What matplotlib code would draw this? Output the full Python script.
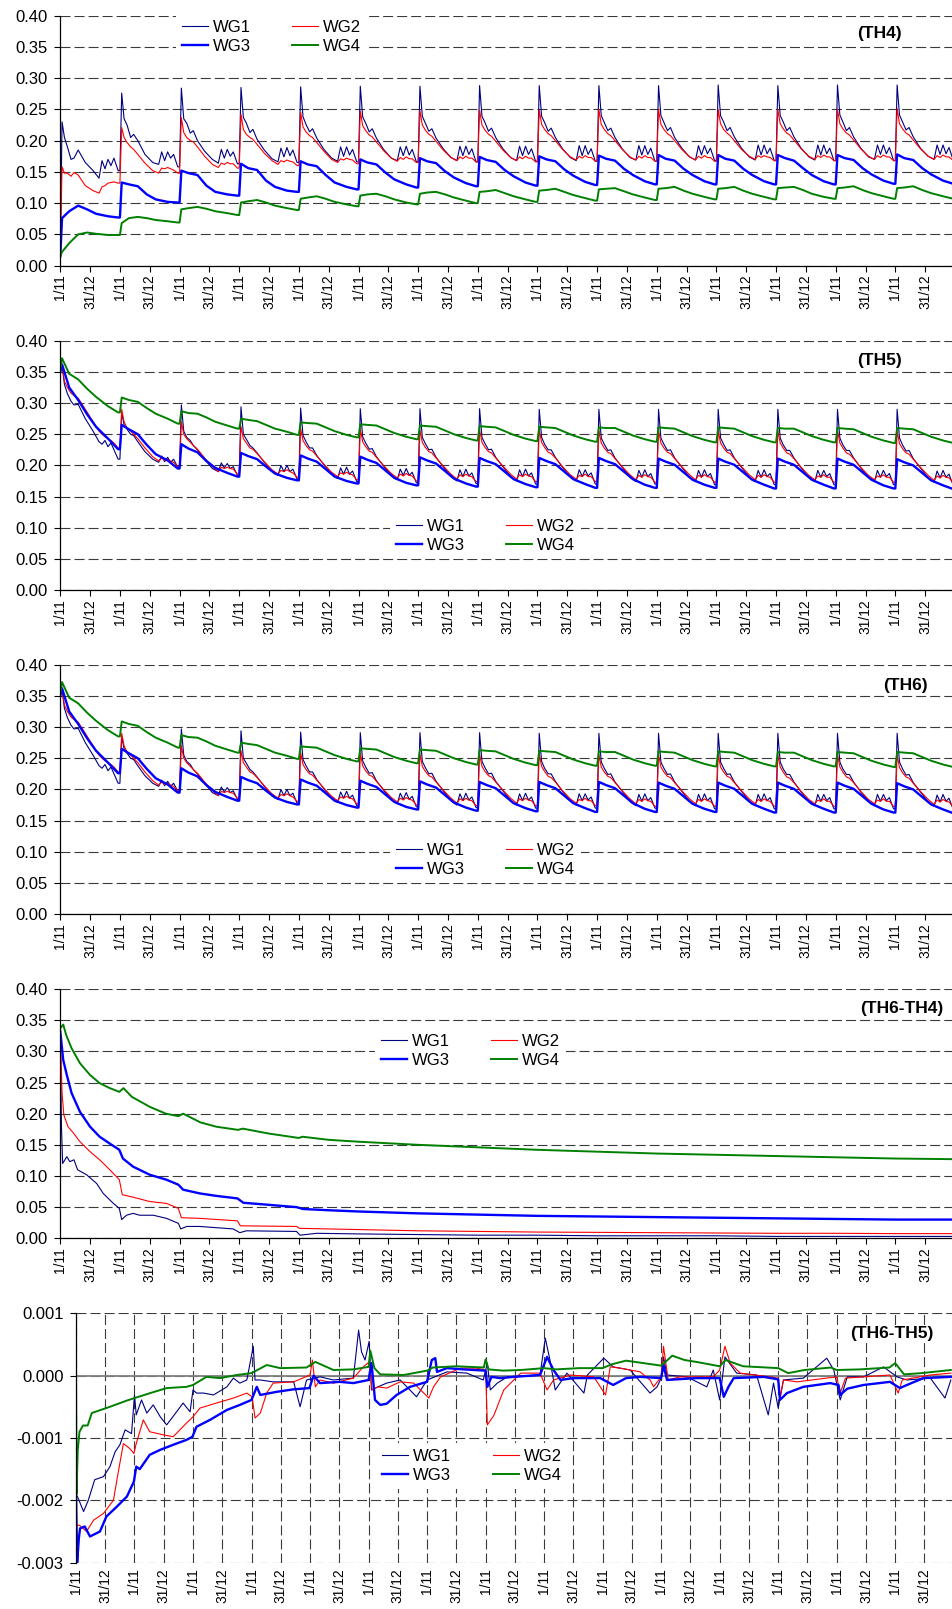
import numpy as np
import matplotlib.pyplot as plt
from matplotlib.ticker import FormatStrFormatter

plt.rcParams['font.family'] = ['Liberation Sans', 'DejaVu Sans']
plt.rcParams['lines.scale_dashes'] = False

names = ['WG1', 'WG2', 'WG3', 'WG4']
colors = ['#000080', '#ff0000', '#0000ff', '#008000']
widths = [0.8, 0.8, 1.7, 1.4]

tick_labels = ['1/11', '31/12'] * 15

frac_a = [0.0, 0.03, 0.07, 0.12, 0.18, 0.23, 0.3, 0.42, 0.55, 0.65, 0.7, 0.75, 0.8, 0.85, 0.9, 0.97]
frac_b = [0.0, 0.03, 0.15, 0.3, 0.45, 0.6, 0.8, 0.97]

# ---- TH4 : one row per season ----
th4_wg1 = [
    [0.020, 0.230, 0.205, 0.190, 0.170, 0.172, 0.185, 0.165, 0.152, 0.140, 0.168, 0.155, 0.170, 0.160, 0.172, 0.152],
    [0.152, 0.276, 0.235, 0.225, 0.205, 0.210, 0.200, 0.178, 0.165, 0.162, 0.182, 0.168, 0.182, 0.172, 0.178, 0.158],
    [0.158, 0.284, 0.235, 0.228, 0.212, 0.216, 0.200, 0.183, 0.170, 0.164, 0.186, 0.172, 0.186, 0.175, 0.182, 0.163],
    [0.163, 0.285, 0.237, 0.228, 0.213, 0.218, 0.202, 0.185, 0.171, 0.166, 0.188, 0.174, 0.189, 0.176, 0.185, 0.165],
    [0.165, 0.286, 0.238, 0.226, 0.214, 0.219, 0.204, 0.186, 0.172, 0.167, 0.190, 0.175, 0.190, 0.177, 0.186, 0.166],
    [0.166, 0.287, 0.238, 0.228, 0.214, 0.219, 0.204, 0.186, 0.172, 0.168, 0.190, 0.176, 0.191, 0.177, 0.186, 0.166],
    [0.166, 0.287, 0.239, 0.228, 0.215, 0.219, 0.204, 0.187, 0.173, 0.168, 0.191, 0.176, 0.191, 0.178, 0.187, 0.166],
    [0.166, 0.288, 0.239, 0.229, 0.215, 0.220, 0.205, 0.187, 0.173, 0.168, 0.191, 0.176, 0.191, 0.178, 0.187, 0.167],
    [0.167, 0.288, 0.239, 0.229, 0.215, 0.220, 0.205, 0.187, 0.173, 0.168, 0.192, 0.176, 0.192, 0.178, 0.187, 0.167],
    [0.167, 0.288, 0.240, 0.229, 0.216, 0.220, 0.205, 0.187, 0.173, 0.169, 0.192, 0.177, 0.192, 0.178, 0.188, 0.167],
    [0.167, 0.288, 0.240, 0.229, 0.216, 0.221, 0.205, 0.188, 0.174, 0.169, 0.192, 0.177, 0.192, 0.179, 0.188, 0.168],
    [0.168, 0.289, 0.240, 0.230, 0.216, 0.221, 0.206, 0.188, 0.174, 0.169, 0.193, 0.177, 0.193, 0.179, 0.188, 0.168],
    [0.168, 0.288, 0.240, 0.230, 0.216, 0.221, 0.206, 0.188, 0.174, 0.169, 0.193, 0.177, 0.193, 0.179, 0.188, 0.168],
    [0.168, 0.289, 0.241, 0.230, 0.216, 0.221, 0.206, 0.188, 0.174, 0.170, 0.193, 0.178, 0.193, 0.179, 0.189, 0.168],
    [0.168, 0.289, 0.241, 0.230, 0.217, 0.221, 0.206, 0.188, 0.175, 0.170, 0.193, 0.178, 0.193, 0.179, 0.189, 0.169],
]
th4_wg2 = [
    [0.020, 0.158, 0.148, 0.148, 0.143, 0.149, 0.145, 0.128, 0.120, 0.116, 0.126, 0.128, 0.132, 0.133, 0.134, 0.132],
    [0.132, 0.221, 0.205, 0.197, 0.190, 0.186, 0.178, 0.164, 0.152, 0.148, 0.156, 0.155, 0.157, 0.155, 0.153, 0.148],
    [0.148, 0.237, 0.213, 0.205, 0.200, 0.198, 0.190, 0.175, 0.162, 0.157, 0.164, 0.162, 0.165, 0.163, 0.163, 0.156],
    [0.156, 0.242, 0.218, 0.210, 0.205, 0.202, 0.194, 0.180, 0.168, 0.162, 0.168, 0.166, 0.169, 0.167, 0.166, 0.160],
    [0.160, 0.245, 0.222, 0.214, 0.208, 0.205, 0.197, 0.183, 0.170, 0.165, 0.171, 0.169, 0.172, 0.170, 0.169, 0.163],
    [0.163, 0.247, 0.224, 0.216, 0.209, 0.206, 0.198, 0.184, 0.172, 0.167, 0.173, 0.170, 0.174, 0.171, 0.171, 0.165],
    [0.165, 0.248, 0.225, 0.217, 0.210, 0.207, 0.199, 0.185, 0.173, 0.168, 0.174, 0.171, 0.175, 0.172, 0.172, 0.166],
    [0.166, 0.249, 0.225, 0.217, 0.210, 0.207, 0.199, 0.185, 0.173, 0.168, 0.174, 0.171, 0.175, 0.172, 0.172, 0.166],
    [0.166, 0.249, 0.226, 0.218, 0.211, 0.208, 0.200, 0.186, 0.174, 0.169, 0.175, 0.172, 0.176, 0.173, 0.173, 0.167],
    [0.167, 0.250, 0.226, 0.218, 0.211, 0.208, 0.200, 0.186, 0.174, 0.169, 0.175, 0.172, 0.176, 0.173, 0.173, 0.167],
    [0.167, 0.250, 0.226, 0.218, 0.211, 0.208, 0.200, 0.186, 0.174, 0.169, 0.175, 0.172, 0.176, 0.173, 0.173, 0.167],
    [0.167, 0.250, 0.227, 0.218, 0.212, 0.208, 0.200, 0.186, 0.175, 0.170, 0.176, 0.173, 0.176, 0.174, 0.173, 0.168],
    [0.168, 0.250, 0.227, 0.219, 0.212, 0.209, 0.201, 0.187, 0.175, 0.170, 0.176, 0.173, 0.177, 0.174, 0.174, 0.168],
    [0.168, 0.250, 0.227, 0.219, 0.212, 0.209, 0.201, 0.187, 0.175, 0.170, 0.176, 0.173, 0.177, 0.174, 0.174, 0.168],
    [0.168, 0.251, 0.227, 0.219, 0.212, 0.209, 0.201, 0.187, 0.175, 0.170, 0.176, 0.173, 0.177, 0.174, 0.174, 0.168],
]
th4_wg3 = [
    [0.015, 0.076, 0.087, 0.096, 0.090, 0.083, 0.079, 0.077],
    [0.077, 0.133, 0.130, 0.127, 0.114, 0.106, 0.102, 0.101],
    [0.101, 0.152, 0.148, 0.145, 0.128, 0.118, 0.114, 0.112],
    [0.112, 0.163, 0.156, 0.153, 0.136, 0.126, 0.120, 0.118],
    [0.118, 0.167, 0.162, 0.159, 0.145, 0.133, 0.126, 0.122],
    [0.122, 0.170, 0.165, 0.162, 0.149, 0.138, 0.130, 0.125],
    [0.125, 0.172, 0.167, 0.164, 0.151, 0.141, 0.132, 0.127],
    [0.127, 0.174, 0.169, 0.166, 0.153, 0.143, 0.133, 0.128],
    [0.128, 0.175, 0.170, 0.167, 0.154, 0.144, 0.134, 0.129],
    [0.129, 0.176, 0.171, 0.168, 0.155, 0.145, 0.135, 0.130],
    [0.130, 0.177, 0.171, 0.168, 0.155, 0.145, 0.135, 0.130],
    [0.130, 0.177, 0.171, 0.168, 0.155, 0.145, 0.135, 0.130],
    [0.130, 0.177, 0.172, 0.168, 0.156, 0.145, 0.135, 0.130],
    [0.130, 0.177, 0.172, 0.169, 0.156, 0.146, 0.136, 0.131],
    [0.131, 0.178, 0.172, 0.169, 0.156, 0.146, 0.136, 0.131],
]
th4_wg4 = [
    [0.015, 0.022, 0.036, 0.050, 0.053, 0.051, 0.049, 0.049],
    [0.049, 0.068, 0.076, 0.078, 0.076, 0.073, 0.071, 0.069],
    [0.069, 0.090, 0.092, 0.094, 0.091, 0.087, 0.084, 0.081],
    [0.081, 0.101, 0.103, 0.105, 0.101, 0.096, 0.092, 0.089],
    [0.089, 0.107, 0.109, 0.111, 0.107, 0.102, 0.098, 0.095],
    [0.095, 0.112, 0.114, 0.115, 0.111, 0.106, 0.101, 0.098],
    [0.098, 0.115, 0.117, 0.118, 0.114, 0.109, 0.104, 0.100],
    [0.100, 0.118, 0.119, 0.121, 0.116, 0.111, 0.106, 0.102],
    [0.102, 0.120, 0.121, 0.123, 0.118, 0.113, 0.108, 0.104],
    [0.104, 0.122, 0.123, 0.124, 0.119, 0.114, 0.109, 0.105],
    [0.105, 0.123, 0.124, 0.126, 0.120, 0.115, 0.110, 0.106],
    [0.106, 0.123, 0.124, 0.126, 0.120, 0.115, 0.110, 0.106],
    [0.106, 0.124, 0.125, 0.126, 0.121, 0.115, 0.110, 0.107],
    [0.107, 0.124, 0.125, 0.127, 0.121, 0.116, 0.111, 0.107],
    [0.107, 0.124, 0.125, 0.127, 0.121, 0.116, 0.111, 0.107],
]

# ---- TH5 (TH6 reads the same at this scale) ----
th5_wg1 = [
    [0.350, 0.360, 0.330, 0.315, 0.303, 0.297, 0.298, 0.275, 0.255, 0.238, 0.234, 0.240, 0.230, 0.236, 0.225, 0.210],
    [0.210, 0.285, 0.265, 0.258, 0.250, 0.248, 0.238, 0.222, 0.210, 0.205, 0.215, 0.206, 0.213, 0.205, 0.210, 0.197],
    [0.197, 0.297, 0.255, 0.245, 0.240, 0.232, 0.225, 0.210, 0.195, 0.190, 0.204, 0.196, 0.203, 0.195, 0.198, 0.184],
    [0.184, 0.294, 0.250, 0.242, 0.232, 0.228, 0.220, 0.205, 0.190, 0.184, 0.200, 0.190, 0.200, 0.190, 0.194, 0.178],
    [0.178, 0.292, 0.248, 0.238, 0.228, 0.228, 0.216, 0.201, 0.186, 0.179, 0.196, 0.186, 0.197, 0.186, 0.191, 0.174],
    [0.174, 0.291, 0.246, 0.236, 0.226, 0.227, 0.214, 0.199, 0.184, 0.177, 0.194, 0.184, 0.195, 0.184, 0.189, 0.172],
    [0.172, 0.291, 0.245, 0.235, 0.225, 0.226, 0.213, 0.198, 0.182, 0.175, 0.193, 0.182, 0.194, 0.183, 0.188, 0.171],
    [0.171, 0.291, 0.245, 0.235, 0.225, 0.226, 0.213, 0.198, 0.182, 0.175, 0.193, 0.182, 0.194, 0.183, 0.188, 0.170],
    [0.170, 0.290, 0.245, 0.234, 0.225, 0.225, 0.213, 0.197, 0.182, 0.175, 0.193, 0.182, 0.193, 0.183, 0.188, 0.170],
    [0.170, 0.290, 0.244, 0.234, 0.224, 0.225, 0.212, 0.197, 0.181, 0.174, 0.192, 0.181, 0.193, 0.182, 0.187, 0.170],
    [0.170, 0.290, 0.244, 0.234, 0.224, 0.225, 0.212, 0.197, 0.181, 0.174, 0.192, 0.181, 0.193, 0.182, 0.187, 0.169],
    [0.169, 0.290, 0.244, 0.234, 0.224, 0.225, 0.212, 0.197, 0.181, 0.174, 0.192, 0.181, 0.193, 0.182, 0.187, 0.169],
    [0.169, 0.290, 0.244, 0.233, 0.224, 0.224, 0.212, 0.196, 0.181, 0.174, 0.192, 0.181, 0.192, 0.182, 0.187, 0.169],
    [0.169, 0.290, 0.244, 0.233, 0.224, 0.224, 0.212, 0.196, 0.181, 0.174, 0.192, 0.181, 0.192, 0.182, 0.187, 0.169],
    [0.169, 0.290, 0.244, 0.233, 0.223, 0.224, 0.211, 0.196, 0.180, 0.173, 0.191, 0.180, 0.192, 0.181, 0.186, 0.168],
]
th5_wg2 = [
    [0.350, 0.362, 0.335, 0.325, 0.316, 0.312, 0.308, 0.290, 0.270, 0.255, 0.250, 0.246, 0.243, 0.240, 0.236, 0.228],
    [0.228, 0.290, 0.270, 0.260, 0.255, 0.250, 0.243, 0.228, 0.214, 0.207, 0.212, 0.208, 0.210, 0.207, 0.205, 0.198],
    [0.198, 0.270, 0.250, 0.243, 0.237, 0.232, 0.226, 0.212, 0.198, 0.190, 0.197, 0.195, 0.197, 0.195, 0.194, 0.186],
    [0.186, 0.262, 0.243, 0.236, 0.228, 0.226, 0.219, 0.206, 0.193, 0.186, 0.192, 0.190, 0.193, 0.190, 0.188, 0.181],
    [0.181, 0.259, 0.240, 0.232, 0.225, 0.223, 0.215, 0.202, 0.189, 0.182, 0.188, 0.186, 0.189, 0.186, 0.185, 0.177],
    [0.177, 0.258, 0.238, 0.230, 0.223, 0.221, 0.213, 0.200, 0.187, 0.180, 0.186, 0.183, 0.187, 0.184, 0.183, 0.175],
    [0.175, 0.257, 0.237, 0.229, 0.222, 0.220, 0.212, 0.199, 0.186, 0.178, 0.185, 0.182, 0.186, 0.183, 0.182, 0.174],
    [0.174, 0.257, 0.237, 0.229, 0.222, 0.220, 0.212, 0.199, 0.186, 0.178, 0.185, 0.182, 0.186, 0.183, 0.182, 0.174],
    [0.174, 0.257, 0.237, 0.229, 0.221, 0.219, 0.212, 0.198, 0.185, 0.178, 0.184, 0.182, 0.186, 0.182, 0.182, 0.174],
    [0.174, 0.256, 0.236, 0.228, 0.221, 0.219, 0.211, 0.198, 0.185, 0.177, 0.184, 0.181, 0.185, 0.182, 0.181, 0.173],
    [0.173, 0.256, 0.236, 0.228, 0.221, 0.219, 0.211, 0.198, 0.185, 0.177, 0.184, 0.181, 0.185, 0.182, 0.181, 0.173],
    [0.173, 0.256, 0.236, 0.228, 0.221, 0.219, 0.211, 0.198, 0.185, 0.177, 0.184, 0.181, 0.185, 0.182, 0.181, 0.173],
    [0.173, 0.256, 0.236, 0.228, 0.220, 0.218, 0.211, 0.197, 0.184, 0.177, 0.183, 0.181, 0.185, 0.181, 0.181, 0.173],
    [0.173, 0.256, 0.236, 0.228, 0.220, 0.218, 0.211, 0.197, 0.184, 0.177, 0.183, 0.181, 0.185, 0.181, 0.181, 0.173],
    [0.173, 0.255, 0.235, 0.227, 0.220, 0.218, 0.210, 0.197, 0.184, 0.176, 0.183, 0.180, 0.184, 0.181, 0.180, 0.172],
]
th5_wg3 = [
    [0.350, 0.362, 0.325, 0.305, 0.282, 0.262, 0.243, 0.226],
    [0.226, 0.265, 0.258, 0.250, 0.233, 0.218, 0.208, 0.195],
    [0.195, 0.234, 0.227, 0.221, 0.207, 0.196, 0.188, 0.182],
    [0.182, 0.220, 0.215, 0.210, 0.198, 0.187, 0.180, 0.176],
    [0.176, 0.216, 0.211, 0.206, 0.194, 0.182, 0.175, 0.171],
    [0.171, 0.214, 0.209, 0.204, 0.192, 0.180, 0.172, 0.168],
    [0.168, 0.213, 0.208, 0.203, 0.191, 0.179, 0.171, 0.166],
    [0.166, 0.212, 0.207, 0.202, 0.190, 0.178, 0.170, 0.165],
    [0.165, 0.212, 0.207, 0.202, 0.190, 0.178, 0.170, 0.164],
    [0.164, 0.212, 0.207, 0.202, 0.190, 0.178, 0.169, 0.164],
    [0.164, 0.211, 0.206, 0.201, 0.189, 0.177, 0.169, 0.164],
    [0.164, 0.211, 0.206, 0.201, 0.189, 0.177, 0.169, 0.163],
    [0.163, 0.211, 0.206, 0.201, 0.189, 0.177, 0.169, 0.163],
    [0.163, 0.211, 0.206, 0.201, 0.189, 0.177, 0.168, 0.163],
    [0.163, 0.210, 0.205, 0.200, 0.188, 0.176, 0.168, 0.162],
]
th5_wg4 = [
    [0.352, 0.372, 0.347, 0.338, 0.323, 0.310, 0.295, 0.285],
    [0.285, 0.309, 0.305, 0.302, 0.292, 0.283, 0.275, 0.267],
    [0.267, 0.287, 0.284, 0.283, 0.277, 0.270, 0.264, 0.259],
    [0.259, 0.275, 0.273, 0.271, 0.265, 0.259, 0.254, 0.249],
    [0.249, 0.269, 0.268, 0.267, 0.261, 0.255, 0.249, 0.245],
    [0.245, 0.266, 0.265, 0.264, 0.258, 0.252, 0.246, 0.242],
    [0.242, 0.264, 0.263, 0.262, 0.256, 0.250, 0.244, 0.240],
    [0.240, 0.263, 0.262, 0.261, 0.255, 0.249, 0.243, 0.239],
    [0.239, 0.262, 0.261, 0.260, 0.254, 0.248, 0.242, 0.238],
    [0.238, 0.261, 0.260, 0.260, 0.254, 0.248, 0.242, 0.238],
    [0.238, 0.261, 0.260, 0.259, 0.253, 0.247, 0.241, 0.237],
    [0.237, 0.261, 0.260, 0.259, 0.253, 0.247, 0.241, 0.237],
    [0.237, 0.260, 0.259, 0.259, 0.253, 0.247, 0.241, 0.237],
    [0.237, 0.260, 0.259, 0.258, 0.252, 0.246, 0.240, 0.236],
    [0.236, 0.260, 0.259, 0.258, 0.252, 0.246, 0.240, 0.236],
]

# ---- TH6-TH4 : (season position, value) ----
th64_wg1 = [(0, 0.332), (0.02, 0.179), (0.04, 0.120), (0.11, 0.131), (0.16, 0.123), (0.23, 0.126),
            (0.29, 0.110), (0.44, 0.102), (0.61, 0.088), (0.72, 0.072), (0.89, 0.056), (0.99, 0.048),
            (1.03, 0.030), (1.11, 0.037), (1.22, 0.040), (1.33, 0.037), (1.56, 0.037), (1.78, 0.032),
            (1.98, 0.024), (2.02, 0.015), (2.12, 0.019), (2.34, 0.019), (2.9, 0.015), (3.01, 0.009),
            (3.12, 0.012), (3.96, 0.011), (4.02, 0.005), (4.3, 0.008), (5, 0.007), (6, 0.006), (7, 0.005),
            (8, 0.005), (9, 0.004), (10, 0.004), (11, 0.004), (12, 0.003), (13, 0.003), (14, 0.003),
            (14.95, 0.003)]
th64_wg2 = [(0, 0.332), (0.03, 0.233), (0.06, 0.198), (0.13, 0.179), (0.22, 0.169), (0.33, 0.155),
            (0.5, 0.139), (0.66, 0.126), (0.83, 0.110), (0.99, 0.094), (1.04, 0.070), (1.22, 0.066),
            (1.5, 0.059), (1.78, 0.056), (1.98, 0.048), (2.03, 0.033), (2.34, 0.032), (2.97, 0.028),
            (3.02, 0.020), (3.96, 0.019), (4.01, 0.016), (5, 0.014), (6, 0.012), (7, 0.011), (8, 0.010),
            (9, 0.0095), (10, 0.009), (11, 0.0085), (12, 0.008), (13, 0.008), (14, 0.0075), (14.95, 0.0075)]
th64_wg3 = [(0, 0.332), (0.05, 0.286), (0.11, 0.262), (0.19, 0.233), (0.33, 0.203), (0.5, 0.179),
            (0.66, 0.163), (0.83, 0.152), (0.99, 0.142), (1.05, 0.128), (1.22, 0.115), (1.5, 0.102),
            (1.78, 0.094), (1.98, 0.086), (2.06, 0.078), (2.34, 0.072), (2.62, 0.068), (2.97, 0.064),
            (3.07, 0.057), (3.46, 0.054), (3.96, 0.050), (4.07, 0.047), (4.5, 0.045), (5, 0.043),
            (6, 0.040), (7, 0.038), (8, 0.036), (9, 0.035), (10, 0.034), (11, 0.033), (12, 0.032),
            (13, 0.031), (14, 0.030), (14.95, 0.030)]
th64_wg4 = [(0, 0.337), (0.05, 0.343), (0.1, 0.326), (0.19, 0.305), (0.33, 0.281), (0.5, 0.262),
            (0.66, 0.249), (0.83, 0.241), (0.99, 0.235), (1.06, 0.241), (1.2, 0.227), (1.5, 0.211),
            (1.77, 0.200), (1.98, 0.196), (2.06, 0.200), (2.35, 0.186), (2.62, 0.179), (2.98, 0.174),
            (3.06, 0.176), (3.5, 0.168), (4.0, 0.161), (4.06, 0.163), (4.5, 0.158), (5, 0.155),
            (6, 0.150), (7, 0.146), (8, 0.142), (9, 0.139), (10, 0.136), (11, 0.134), (12, 0.132),
            (13, 0.130), (14, 0.128), (14.95, 0.127)]

# ---- TH6-TH5 ----
th65_wg1 = [(0, -0.0019), (0.03, -0.00195), (0.13, -0.00218), (0.21, -0.0020), (0.32, -0.00167),
            (0.47, -0.00162), (0.58, -0.00146), (0.67, -0.00122), (0.75, -0.00111), (0.84, -0.00087),
            (0.95, -0.00093), (1.0, -0.00031), (1.03, -0.00063), (1.12, -0.00039), (1.21, -0.0006),
            (1.32, -0.00047), (1.44, -0.00066), (1.55, -0.00079), (1.72, -0.00058), (1.83, -0.00044),
            (1.95, -0.00058), (2.0, -0.00023), (2.06, -0.00028), (2.18, -0.00028), (2.35, -0.00031),
            (2.58, -0.00018), (2.69, -0.00004), (2.8, -0.00012), (2.92, -0.00007), (3.03, 0.00047),
            (3.06, -0.00007), (3.15, -0.00007), (3.37, -0.0001), (3.72, -0.0001), (3.83, -0.0005),
            (3.94, -0.00007), (4.17, -0.00002), (4.4, -0.00007), (4.74, -0.00004), (4.83, 0.00073),
            (4.88, 0.00038), (4.94, 0.00025), (5.01, 0.00055), (5.05, -0.00023), (5.16, -0.00018),
            (5.31, -0.00012), (5.54, -0.00007), (5.82, -0.00034), (6.0, -0.00007), (6.34, 0.00006),
            (6.68, 0.00004), (6.96, -0.00007), (7.03, 0.0002), (7.08, -0.00023), (7.2, -0.00012),
            (7.37, -0.00002), (7.93, 0.00001), (8.02, 0.0006), (8.1, 0.00025), (8.19, -0.00023),
            (8.39, 0.00004), (8.68, -0.00028), (8.74, 0.00001), (9.02, 0.00028), (9.18, 0.00014),
            (9.47, 0.00009), (9.81, -0.00028), (9.93, -0.00018), (10.0, -0.00004), (10.04, 0.0003),
            (10.1, 0.00001), (10.44, -0.00002), (10.78, -0.00018), (10.89, 0.00009), (11.0, -0.00039),
            (11.09, 0.0003), (11.29, 0.00004), (11.63, 0.00001), (11.83, -0.00063), (11.92, -0.00012),
            (12.0, -0.00052), (12.09, -0.00007), (12.43, -0.00004), (12.83, 0.00028), (12.95, 0.00009),
            (13.06, -0.00039), (13.18, -0.00002), (13.46, -0.00002), (13.8, 0.00014), (14.03, -0.00002),
            (14.2, -0.00007), (14.6, -0.00004), (14.85, -0.00036), (14.95, -0.00007)]
th65_wg2 = [(0, 0.001), (0.01, -0.0024), (0.06, -0.0024), (0.12, -0.00245), (0.18, -0.0025),
            (0.3, -0.00232), (0.47, -0.00221), (0.64, -0.0020), (0.7, -0.00167), (0.81, -0.00109),
            (0.92, -0.00117), (0.99, -0.00125), (1.03, -0.00109), (1.15, -0.00071), (1.26, -0.0009),
            (1.49, -0.00095), (1.66, -0.00098), (1.89, -0.00076), (2.0, -0.00066), (2.12, -0.00052),
            (2.4, -0.00044), (2.69, -0.00036), (2.92, -0.00028), (3.01, -0.00034), (3.06, -0.00068),
            (3.15, -0.0006), (3.26, -0.00028), (3.37, -0.00012), (3.72, -0.0001), (4.0, 0.00001),
            (4.04, 0.00025), (4.09, -0.00018), (4.17, -0.00007), (4.4, -0.00012), (4.74, -0.00004),
            (4.91, 0.00014), (5.01, 0.00022), (5.06, -0.00023), (5.16, -0.00018), (5.31, -0.0002),
            (5.54, -0.0001), (5.77, -0.00012), (6.03, -0.00036), (6.11, -0.00018), (6.23, -0.00002),
            (6.57, 0.00012), (6.85, 0.00012), (7.0, 0.00009), (7.03, -0.00079), (7.14, -0.00064),
            (7.31, -0.00023), (7.6, 0.00004), (7.93, 0.00004), (8.05, -0.00023), (8.16, -0.00007),
            (8.45, 0.00001), (8.85, -0.00002), (9.05, -0.00031), (9.13, 0.00014), (9.3, 0.00012),
            (9.64, 0.00006), (9.81, -0.00007), (9.87, -0.00018), (10.0, -0.00002), (10.04, 0.00047),
            (10.12, -0.00007), (10.32, -0.00002), (10.89, -0.00002), (11.0, 0.00009), (11.09, 0.00047),
            (11.18, 0.0002), (11.35, 0.00004), (11.86, -0.00002), (12.0, -0.00004), (12.03, -0.00036),
            (12.09, -0.00007), (12.32, -0.0001), (13.0, -0.00002), (13.06, -0.00028), (13.15, -0.00004),
            (13.46, -0.00002), (13.91, 0.00001), (14.05, -0.00028), (14.12, -0.00007), (14.6, 0.00001),
            (14.95, 0.00004)]
th65_wg3 = [(0, -0.0019), (0.02, -0.0030), (0.05, -0.0026), (0.07, -0.00245), (0.15, -0.00242),
            (0.24, -0.00258), (0.41, -0.0025), (0.52, -0.00226), (0.7, -0.0021), (0.87, -0.00194),
            (0.99, -0.0017), (1.03, -0.00146), (1.09, -0.0015), (1.26, -0.00127), (1.44, -0.00119),
            (1.66, -0.00111), (1.89, -0.00103), (1.99, -0.00098), (2.06, -0.00082), (2.29, -0.00071),
            (2.58, -0.00055), (2.8, -0.00047), (3.0, -0.00039), (3.09, -0.00018), (3.15, -0.00031),
            (3.43, -0.00026), (3.72, -0.00022), (3.99, -0.0002), (4.06, 0.0), (4.17, -0.00012),
            (4.51, -0.0001), (4.74, -0.00012), (5.0, -0.00007), (5.05, 0.0002), (5.11, -0.00039),
            (5.2, -0.00047), (5.31, -0.00045), (5.48, -0.00031), (5.71, -0.00018), (6.0, -0.0001),
            (6.08, 0.00025), (6.14, 0.00028), (6.17, 0.00006), (6.34, 0.00012), (6.62, 0.0001),
            (7.0, 0.00008), (7.03, -0.00018), (7.1, -0.00002), (7.25, -0.00004), (7.48, -0.00002),
            (7.93, 0.00001), (8.05, 0.0003), (8.16, 0.00009), (8.28, -0.00007), (8.5, -0.00004),
            (8.96, -0.00004), (9.18, -0.00015), (9.4, -0.00004), (9.64, -0.00002), (10.0, -0.00004),
            (10.04, 0.00017), (10.1, -0.00007), (10.6, -0.00004), (11.0, -0.00004), (11.07, -0.00034),
            (11.15, -0.00018), (11.24, -0.00004), (11.75, -0.00002), (12.0, -0.00006), (12.03, -0.00039),
            (12.15, -0.00028), (12.43, -0.00018), (12.89, -0.00012), (13.03, -0.00015), (13.06, -0.00031),
            (13.18, -0.00021), (13.46, -0.00015), (13.91, -0.0001), (14.08, -0.0002), (14.2, -0.00015),
            (14.48, -0.00004), (14.95, -0.00002)]
th65_wg4 = [(0, 0.0002), (0.01, -0.0019), (0.03, -0.0012), (0.06, -0.0009), (0.12, -0.0008),
            (0.2, -0.0008), (0.27, -0.0006), (0.58, -0.0005), (0.87, -0.0004), (1.0, -0.00036),
            (1.27, -0.00028), (1.55, -0.0002), (1.89, -0.00018), (2.0, -0.00015), (2.23, -0.00002),
            (2.46, -0.00004), (2.75, 0.00001), (3.0, 0.00004), (3.26, 0.00017), (3.49, 0.00012),
            (3.94, 0.00013), (4.09, 0.00022), (4.4, 0.00009), (4.74, 0.0001), (5.0, 0.00014),
            (5.03, 0.0004), (5.1, 0.00012), (5.2, 0.00002), (5.6, 0.00001), (6.0, 0.00008),
            (6.1, 0.00013), (6.5, 0.00015), (6.97, 0.00013), (7.0, 0.00026), (7.05, 0.0001),
            (7.3, 0.00008), (7.6, 0.00009), (8.0, 0.00012), (8.2, 0.0001), (8.6, 0.00012),
            (9.0, 0.00012), (9.15, 0.00018), (9.4, 0.00024), (9.7, 0.0002), (10.0, 0.00016),
            (10.05, 0.0002), (10.19, 0.00032), (10.4, 0.00025), (10.6, 0.00022), (11.0, 0.00015),
            (11.1, 0.00025), (11.4, 0.00015), (12.0, 0.00012), (12.17, 0.00004), (12.45, 0.00009),
            (12.9, 0.00013), (13.0, 0.00009), (13.4, 0.0001), (13.9, 0.00013), (14.0, 0.0002),
            (14.15, 0.00002), (14.45, 0.00004), (14.95, 0.00009)]


def season_series(rows, frac):
    x = np.concatenate([k + np.array(frac) for k in range(len(rows))])
    return x, np.concatenate(rows)


def draw_lines(ax, series):
    handles = []
    for (x, y), c, lw in zip(series, colors, widths):
        h, = ax.plot(x, y, color=c, lw=lw)
        handles.append(h)
    return handles


def style_axes(ax, xmax, ylim, yticks, yfmt):
    ax.set_xlim(0, xmax)
    ax.set_ylim(*ylim)
    ax.set_yticks(yticks)
    ax.yaxis.set_major_formatter(FormatStrFormatter(yfmt))
    ax.set_xticks(np.arange(30) * 0.5)
    ax.set_xticklabels(tick_labels, rotation=90, fontsize=10)
    ax.tick_params(axis='y', labelsize=12, length=4, width=0.8, pad=5)
    ax.tick_params(axis='x', length=4.5, width=0.8, pad=2)
    ax.spines['top'].set_visible(False)
    ax.spines['right'].set_visible(False)
    ax.spines['left'].set_linewidth(0.9)
    ax.spines['bottom'].set_linewidth(0.9)
    ax.set_axisbelow(True)
    ax.grid(True, axis='y', color='#3a3a3a', lw=0.8, ls=(0, (7.2, 2.9)))


def add_legend(ax, handles, pos):
    order = [0, 2, 1, 3]
    leg = ax.legend([handles[i] for i in order], [names[i] for i in order], ncol=2,
                    loc='center', bbox_to_anchor=pos, fontsize=12, frameon=True,
                    fancybox=False, facecolor='white', edgecolor='none', framealpha=1,
                    handlelength=1.55, handletextpad=0.3, columnspacing=2.5,
                    labelspacing=0.25, borderpad=0.35)
    return leg


def add_title(ax, pos, text):
    ax.text(*pos, text, transform=ax.transAxes, ha='right', va='center', fontsize=12.5,
            fontweight='bold', bbox=dict(facecolor='white', edgecolor='none', pad=1))


fig = plt.figure(figsize=(9.52, 16.09), dpi=100)

panels = [
    ('(TH4)', [th4_wg1, th4_wg2, th4_wg3, th4_wg4], [0.0633, 0.8349, 0.9367, 0.1554], (0.237, 0.914), (0.944, 0.927)),
    ('(TH5)', [th5_wg1, th5_wg2, th5_wg3, th5_wg4], [0.0633, 0.6333, 0.9367, 0.1549], (0.477, 0.217), (0.944, 0.919)),
    ('(TH6)', [th5_wg1, th5_wg2, th5_wg3, th5_wg4], [0.0633, 0.4318, 0.9367, 0.1551], (0.477, 0.218), (0.973, 0.918)),
]
for title, rows, box, leg_pos, title_pos in panels:
    ax = fig.add_axes(box)
    series = [season_series(rows[0], frac_a), season_series(rows[1], frac_a),
              season_series(rows[2], frac_b), season_series(rows[3], frac_b)]
    handles = draw_lines(ax, series)
    style_axes(ax, 14.95, (0, 0.4), np.linspace(0, 0.4, 9), '%.2f')
    add_legend(ax, handles, leg_pos)
    add_title(ax, title_pos, title)

# TH6-TH4
ax = fig.add_axes([0.0633, 0.2304, 0.9367, 0.1549])
series = [np.array(s).T for s in (th64_wg1, th64_wg2, th64_wg3, th64_wg4)]
handles = draw_lines(ax, series)
style_axes(ax, 14.95, (0, 0.4), np.linspace(0, 0.4, 9), '%.2f')
add_legend(ax, handles, (0.460, 0.751))
add_title(ax, (0.99, 0.922), '(TH6-TH4)')

# TH6-TH5
ax = fig.add_axes([0.0798, 0.0288, 0.9202, 0.1550])
series = [np.array(s).T for s in (th65_wg1, th65_wg2, th65_wg3, th65_wg4)]
ax.axhline(0, color='#808080', lw=1.3, zorder=1.5)
handles = draw_lines(ax, series)
style_axes(ax, 14.97, (-0.003, 0.001), [-0.003, -0.002, -0.001, 0.0, 0.001], '%.3f')
ax.grid(True, axis='x', color='#3a3a3a', lw=0.8, ls=(0, (7.2, 2.9)))
ax.spines['bottom'].set_visible(False)
ax.tick_params(axis='x', length=0, pad=4)
add_legend(ax, handles, (0.452, 0.388))
add_title(ax, (0.979, 0.918), '(TH6-TH5)')

fig.savefig('out.png', dpi=100)
